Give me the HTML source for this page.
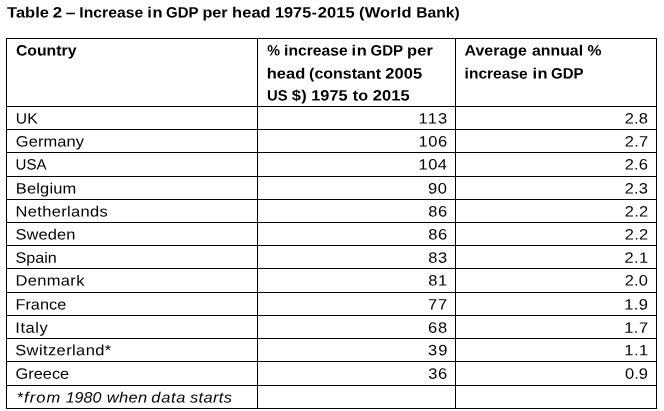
<!DOCTYPE html>
<html><head><meta charset="utf-8"><title>Table 2</title><style>
html,body{margin:0;padding:0;background:#fff;}
body{will-change:transform;width:664px;height:411px;position:relative;overflow:hidden;font-family:"Liberation Sans",sans-serif;color:#000;}
.t{position:absolute;left:0;top:0;text-rendering:geometricPrecision;white-space:nowrap;font-size:15.0px;line-height:20px;height:20px;transform-origin:0 0;}
.b{font-weight:bold;}
.i{font-style:italic;}
.h{position:absolute;left:6px;width:651px;height:1px;background:#000;}
.v{position:absolute;top:38px;height:371px;width:1px;background:#000;}
</style></head><body>
<div class="h" style="top:38px"></div>
<div class="h" style="top:106px"></div>
<div class="h" style="top:129px"></div>
<div class="h" style="top:152px"></div>
<div class="h" style="top:176px"></div>
<div class="h" style="top:199px"></div>
<div class="h" style="top:222px"></div>
<div class="h" style="top:245px"></div>
<div class="h" style="top:268px"></div>
<div class="h" style="top:292px"></div>
<div class="h" style="top:315px"></div>
<div class="h" style="top:338px"></div>
<div class="h" style="top:361px"></div>
<div class="h" style="top:385px"></div>
<div class="h" style="top:408px"></div>
<div class="v" style="left:6px"></div>
<div class="v" style="left:257px"></div>
<div class="v" style="left:455px"></div>
<div class="v" style="left:656px"></div>
<div class="t b" style="letter-spacing:0.012px;transform:matrix(1.1000,0.0005,0,1,7.02,3.55)">Table</div>
<div class="t b" style="transform:matrix(1.1252,0.0005,0,1,52.73,3.55)">2</div>
<div class="t b" style="transform:matrix(1.1759,0.0005,0,1,65.82,3.55)">–</div>
<div class="t b" style="transform:matrix(1.0488,0.0005,0,1,79.32,3.55)">Increase</div>
<div class="t b" style="letter-spacing:0.542px;transform:matrix(1.1000,0.0005,0,1,147.29,3.55)">in</div>
<div class="t b" style="transform:matrix(1.0012,0.0005,0,1,166.04,3.55)">GDP</div>
<div class="t b" style="transform:matrix(1.0833,0.0005,0,1,202.38,3.55)">per</div>
<div class="t b" style="letter-spacing:0.026px;transform:matrix(1.1000,0.0005,0,1,232.08,3.55)">head</div>
<div class="t b" style="transform:matrix(1.0839,0.0005,0,1,275.01,3.55)">1975</div>
<div class="t b" style="transform:matrix(1.0297,0.0005,0,1,311.79,3.55)">-</div>
<div class="t b" style="letter-spacing:0.012px;transform:matrix(1.1000,0.0005,0,1,317.85,3.55)">2015</div>
<div class="t b" style="letter-spacing:0.115px;transform:matrix(1.1000,0.0005,0,1,359.04,3.55)">(World</div>
<div class="t b" style="transform:matrix(1.0427,0.0005,0,1,416.23,3.55)">Bank)</div>
<div class="t b" style="transform:matrix(1.0536,0.0005,0,1,15.89,41.55)">Country</div>
<div class="t b" style="transform:matrix(0.9566,0.0005,0,1,267.31,41.55)">%</div>
<div class="t b" style="transform:matrix(1.0438,0.0005,0,1,284.08,41.55)">increase</div>
<div class="t b" style="letter-spacing:0.453px;transform:matrix(1.1000,0.0005,0,1,351.60,41.55)">in</div>
<div class="t b" style="transform:matrix(1.0052,0.0005,0,1,370.44,41.55)">GDP</div>
<div class="t b" style="letter-spacing:0.153px;transform:matrix(1.1000,0.0005,0,1,407.03,41.55)">per</div>
<div class="t b" style="letter-spacing:0.032px;transform:matrix(1.1000,0.0005,0,1,266.63,64.60)">head</div>
<div class="t b" style="transform:matrix(1.0673,0.0005,0,1,309.06,64.60)">(constant</div>
<div class="t b" style="letter-spacing:0.083px;transform:matrix(1.1000,0.0005,0,1,385.19,64.60)">2005</div>
<div class="t b" style="transform:matrix(0.9912,0.0005,0,1,266.89,86.45)">US</div>
<div class="t b" style="letter-spacing:0.398px;transform:matrix(1.1000,0.0005,0,1,291.75,86.45)">$)</div>
<div class="t b" style="transform:matrix(1.0876,0.0005,0,1,311.29,86.45)">1975</div>
<div class="t b" style="transform:matrix(1.0755,0.0005,0,1,352.78,86.45)">to</div>
<div class="t b" style="letter-spacing:0.092px;transform:matrix(1.1000,0.0005,0,1,372.70,86.45)">2015</div>
<div class="t b" style="transform:matrix(1.0652,0.0005,0,1,464.45,41.55)">Average</div>
<div class="t b" style="transform:matrix(1.0559,0.0005,0,1,532.01,41.55)">annual</div>
<div class="t b" style="transform:matrix(1.0498,0.0005,0,1,587.56,41.55)">%</div>
<div class="t b" style="transform:matrix(1.0360,0.0005,0,1,464.61,64.60)">increase</div>
<div class="t b" style="letter-spacing:0.309px;transform:matrix(1.1000,0.0005,0,1,532.55,64.60)">in</div>
<div class="t b" style="transform:matrix(1.0028,0.0005,0,1,551.04,64.60)">GDP</div>
<div class="t " style="transform:matrix(1.0427,0.0005,0,1,15.83,109.55)">UK</div>
<div class="t " style="letter-spacing:1.003px;transform:matrix(1.1000,0.0005,0,1,418.60,109.55)">113</div>
<div class="t " style="letter-spacing:0.110px;transform:matrix(1.1000,0.0005,0,1,624.73,109.55)">2.8</div>
<div class="t " style="letter-spacing:0.060px;transform:matrix(1.1000,0.0005,0,1,15.81,132.40)">Germany</div>
<div class="t " style="letter-spacing:0.508px;transform:matrix(1.1000,0.0005,0,1,418.60,132.40)">106</div>
<div class="t " style="letter-spacing:0.239px;transform:matrix(1.1000,0.0005,0,1,624.73,132.40)">2.7</div>
<div class="t " style="transform:matrix(1.0041,0.0005,0,1,15.58,155.40)">USA</div>
<div class="t " style="letter-spacing:0.378px;transform:matrix(1.1000,0.0005,0,1,418.60,155.40)">104</div>
<div class="t " style="letter-spacing:0.122px;transform:matrix(1.1000,0.0005,0,1,624.73,155.40)">2.6</div>
<div class="t " style="letter-spacing:0.148px;transform:matrix(1.1000,0.0005,0,1,15.76,179.45)">Belgium</div>
<div class="t " style="letter-spacing:0.527px;transform:matrix(1.1000,0.0005,0,1,428.11,179.45)">90</div>
<div class="t " style="letter-spacing:0.126px;transform:matrix(1.1000,0.0005,0,1,624.73,179.45)">2.3</div>
<div class="t " style="letter-spacing:0.302px;transform:matrix(1.1000,0.0005,0,1,15.50,202.55)">Netherlands</div>
<div class="t " style="letter-spacing:0.628px;transform:matrix(1.1000,0.0005,0,1,428.19,202.55)">86</div>
<div class="t " style="letter-spacing:0.275px;transform:matrix(1.1000,0.0005,0,1,624.73,202.55)">2.2</div>
<div class="t " style="letter-spacing:0.072px;transform:matrix(1.1000,0.0005,0,1,15.42,225.40)">Sweden</div>
<div class="t " style="letter-spacing:0.628px;transform:matrix(1.1000,0.0005,0,1,428.19,225.40)">86</div>
<div class="t " style="letter-spacing:0.275px;transform:matrix(1.1000,0.0005,0,1,624.73,225.40)">2.2</div>
<div class="t " style="transform:matrix(1.0794,0.0005,0,1,15.46,248.70)">Spain</div>
<div class="t " style="letter-spacing:0.569px;transform:matrix(1.1000,0.0005,0,1,428.13,248.70)">83</div>
<div class="t " style="letter-spacing:0.286px;transform:matrix(1.1000,0.0005,0,1,624.61,248.70)">2.1</div>
<div class="t " style="letter-spacing:0.307px;transform:matrix(1.1000,0.0005,0,1,15.42,271.60)">Denmark</div>
<div class="t " style="letter-spacing:0.530px;transform:matrix(1.1000,0.0005,0,1,428.19,271.60)">81</div>
<div class="t " style="letter-spacing:0.145px;transform:matrix(1.1000,0.0005,0,1,624.73,271.60)">2.0</div>
<div class="t " style="transform:matrix(1.0877,0.0005,0,1,15.45,295.40)">France</div>
<div class="t " style="letter-spacing:0.665px;transform:matrix(1.1000,0.0005,0,1,427.99,295.40)">77</div>
<div class="t " style="letter-spacing:0.419px;transform:matrix(1.1000,0.0005,0,1,624.16,295.40)">1.9</div>
<div class="t " style="letter-spacing:0.474px;transform:matrix(1.1000,0.0005,0,1,15.33,318.70)">Italy</div>
<div class="t " style="letter-spacing:0.727px;transform:matrix(1.1000,0.0005,0,1,428.12,318.70)">68</div>
<div class="t " style="letter-spacing:0.447px;transform:matrix(1.1000,0.0005,0,1,624.16,318.70)">1.7</div>
<div class="t " style="letter-spacing:0.359px;transform:matrix(1.1000,0.0005,0,1,15.20,341.30)">Switzerland*</div>
<div class="t " style="letter-spacing:0.994px;transform:matrix(1.1000,0.0005,0,1,427.90,341.30)">39</div>
<div class="t " style="letter-spacing:0.492px;transform:matrix(1.1000,0.0005,0,1,624.16,341.30)">1.1</div>
<div class="t " style="transform:matrix(1.0911,0.0005,0,1,15.52,364.70)">Greece</div>
<div class="t " style="letter-spacing:0.661px;transform:matrix(1.1000,0.0005,0,1,428.13,364.70)">36</div>
<div class="t " style="letter-spacing:0.046px;transform:matrix(1.1000,0.0005,0,1,624.96,364.70)">0.9</div>
<div class="t i" style="letter-spacing:0.956px;transform:matrix(1.1000,0.0005,0,1,16.53,388.60)">*from</div>
<div class="t i" style="transform:matrix(1.0715,0.0005,0,1,65.68,388.60)">1980</div>
<div class="t i" style="letter-spacing:0.286px;transform:matrix(1.1000,0.0005,0,1,106.69,388.60)">when</div>
<div class="t i" style="letter-spacing:0.623px;transform:matrix(1.1000,0.0005,0,1,151.28,388.60)">data</div>
<div class="t i" style="letter-spacing:0.312px;transform:matrix(1.1000,0.0005,0,1,189.98,388.60)">starts</div>
</body></html>
